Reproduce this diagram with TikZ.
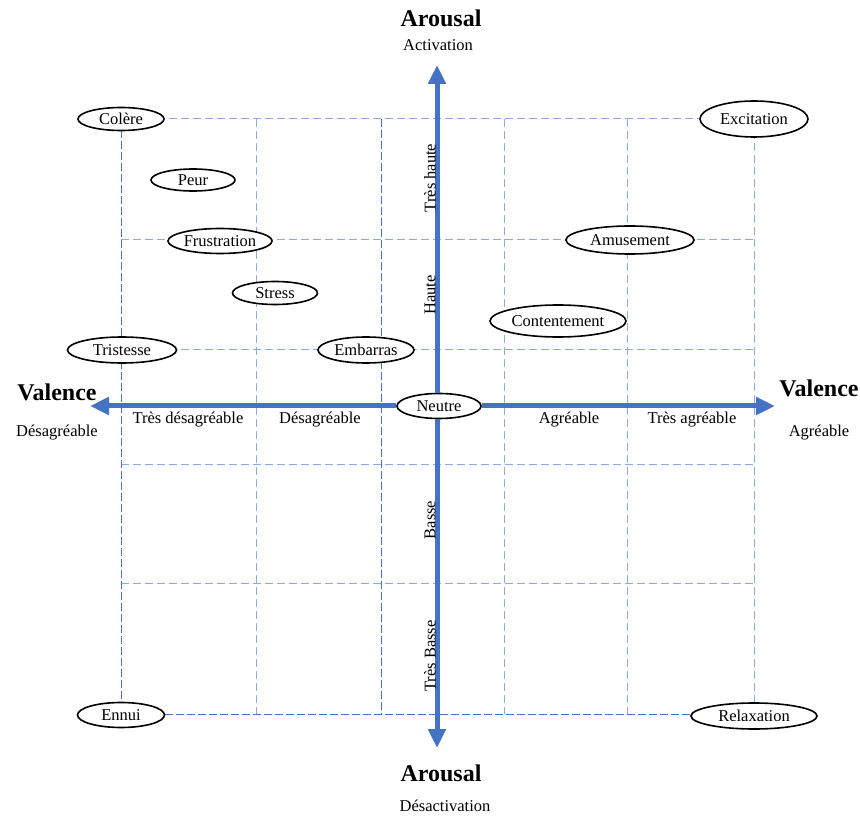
\documentclass[tikz,border=0pt]{standalone}
\usepackage{fontspec}
\setmainfont{Liberation Serif}
\usetikzlibrary{shapes.geometric,arrows.meta}
\definecolor{axisblue}{RGB}{68,114,196}
\definecolor{gridlight}{RGB}{143,170,220}
\tikzset{
  emo/.style={ellipse, draw, line width=1.6pt, fill=white, inner sep=0pt, font=\fontsize{16.5}{18}\selectfont},
  axis/.style={line width=5pt, axisblue, -{Triangle[length=19pt,width=17pt]}},
  gridline/.style={gridlight, dash pattern=on 8pt off 4pt, line width=1pt},
  griddark/.style={axisblue, dash pattern=on 8pt off 3pt, line width=1pt},
  lbl/.style={font=\fontsize{16.5}{18}\selectfont},
  title/.style={font=\fontsize{24}{26}\selectfont\bfseries}
}
\begin{document}
\begin{tikzpicture}[x=1pt, y=-1pt]
        \useasboundingbox (0,0) rectangle (860,818);

        % Grid
        \foreach \gy in {119,240,350,464,583}
            \draw[gridline] (121,\gy) -- (754,\gy);
        \draw[griddark] (121,714) -- (754,714);
        \foreach \gx in {256,504,627,754}
            \draw[gridline] (\gx,119) -- (\gx,714);
        \foreach \gx in {121,381}
            \draw[griddark] (\gx,119) -- (\gx,714);

        % Axes
        \node[emo, minimum width=84pt, minimum height=25pt] (neutre) at (439,406) {Neutre};
        \coordinate (top) at (437,65);
        \coordinate (bottom) at (437,748);
        \coordinate (left) at (90,406);
        \coordinate (right) at (775,406);
        \draw[axis] (neutre.north -| top) -- (top);
        \draw[axis] (neutre.south -| top) -- (bottom);
        \draw[axis] (neutre.west) -- (left);
        \draw[axis] (neutre.east) -- (right);

        % Axis titles
        \node[title] (aroustop) at (441,18) {Arousal};
        \node[lbl] (activ) at (438,45) {Activation};
        \node[title] (arousbot) at (441,773) {Arousal};
        \node[lbl] (desactiv) at (445,806) {Désactivation};
        \node[title] (valleft) at (57,392) {Valence};
        \node[lbl] (desagr) at (57,433) {Désagréable};
        \node[title] (valright) at (819,388) {Valence};
        \node[lbl] (agr) at (819,433) {Agréable};

        % Scale labels
        \node[lbl] (tdesagr) at (188,420) {Très désagréable};
        \node[lbl] (desagrs) at (320,420) {Désagréable};
        \node[lbl] (agrs) at (569,420) {Agréable};
        \node[lbl] (tagrs) at (692,420) {Très agréable};
        \node[lbl, rotate=90] (thaute) at (430,178) {Très haute};
        \node[lbl, rotate=90] (haute) at (430,295) {Haute};
        \node[lbl, rotate=90] (basse) at (430,520) {Basse};
        \node[lbl, rotate=90] (tbasse) at (430,656) {Très Basse};

        % Emotions
        \node[emo, minimum width=86pt, minimum height=23pt] (colere) at (121,119) {Colère};
        \node[emo, minimum width=84pt, minimum height=22pt] (peur) at (193,180) {Peur};
        \node[emo, minimum width=104pt, minimum height=25pt] (frustration) at (220,241) {Frustration};
        \node[emo, minimum width=85pt, minimum height=23pt] (stress) at (275,293) {Stress};
        \node[emo, minimum width=109pt, minimum height=26pt] (tristesse) at (122,350) {Tristesse};
        \node[emo, minimum width=96pt, minimum height=26pt] (embarras) at (366,350) {Embarras};
        \node[emo, minimum width=136pt, minimum height=32pt] (contentement) at (558,321) {Contentement};
        \node[emo, minimum width=128pt, minimum height=28pt] (amusement) at (630,240) {Amusement};
        \node[emo, minimum width=108pt, minimum height=36pt] (excitation) at (754,119) {Excitation};
        \node[emo, minimum width=87pt, minimum height=25pt] (ennui) at (121,715) {Ennui};
        \node[emo, minimum width=126pt, minimum height=26pt] (relaxation) at (754,716) {Relaxation};
    \end{tikzpicture}
\end{document}
